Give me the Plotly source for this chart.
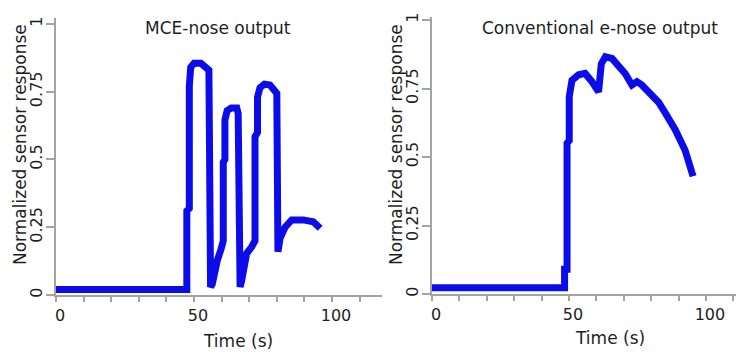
import plotly.graph_objects as go

# ---- data ----
mce_time = [0, 47.4, 47.4, 48.3, 48.3, 48.8, 50.0, 52.5, 55.4, 55.6, 56.0, 56.6, 57.2, 58.5, 59.7, 60.6,
            60.6, 61.2, 61.2, 62.0, 63.5, 65.5, 66.0, 66.1, 66.7, 67.2, 67.9, 69.1, 70.9, 72.1,
            72.1, 73.0, 73.0, 73.9, 75.5, 77.5, 80.0, 80.2, 80.4, 81.2, 83.0, 85.4, 89.6, 93.2, 95.7]
mce_resp = [0.02, 0.02, 0.31, 0.32, 0.77, 0.84, 0.855, 0.855, 0.83, 0.05, 0.03, 0.04, 0.08, 0.13, 0.166, 0.20,
            0.49, 0.50, 0.646, 0.68, 0.69, 0.69, 0.67, 0.05, 0.03, 0.05, 0.09, 0.154, 0.178, 0.20,
            0.584, 0.60, 0.73, 0.765, 0.778, 0.775, 0.744, 0.17, 0.16, 0.21, 0.25, 0.277, 0.277, 0.27, 0.246]

conv_time = [0, 48.4, 48.4, 49.3, 49.3, 50.1, 50.1, 51.1, 53.5, 55.9, 58.4, 60.8, 61.8, 63.3, 65.7,
             68.1, 70.5, 73.0, 74.8, 76.6, 80.3, 82.7, 85.2, 88.8, 92.4, 95.3]
conv_resp = [0.023, 0.023, 0.09, 0.09, 0.55, 0.56, 0.72, 0.78, 0.80, 0.805, 0.775, 0.738, 0.84, 0.866, 0.86,
             0.836, 0.805, 0.763, 0.775, 0.763, 0.726, 0.70, 0.66, 0.60, 0.525, 0.43]

panel_titles = ["MCE-nose output", "Conventional e-nose output"]
x_title = "Time (s)"
y_title = "Normalized sensor response"
y_ticks = [0, 0.25, 0.5, 0.75, 1]
y_ticktext = ["0", "0.25", "0.5", "0.75", "1"]
x_ticks = [0, 50, 100]

# The page body has an 8px margin, so the figure is 8px smaller and all
# window-pixel positions are converted with that offset.
OFF = 8
W, H = 744 - OFF, 352 - OFF


def px(xw):
    return (xw - OFF) / W


def py(yw):
    return (H - (yw - OFF)) / H


LINE = "rgb(12,12,235)"
AX = "#a3a3a3"
TXT = "#1e1e1e"
FONT = "DejaVu Sans"

fig = go.Figure()
fig.add_trace(go.Scatter(x=mce_time, y=mce_resp, mode="lines", xaxis="x", yaxis="y",
                         line=dict(color=LINE, width=7), showlegend=False, hoverinfo="skip"))
fig.add_trace(go.Scatter(x=conv_time, y=conv_resp, mode="lines", xaxis="x2", yaxis="y2",
                         line=dict(color=LINE, width=7), showlegend=False, hoverinfo="skip"))


def xax(domain, rng, anchor):
    return dict(domain=domain, range=rng, anchor=anchor, showgrid=False, zeroline=False,
                showline=True, linecolor=AX, linewidth=2,
                tickmode="array", tickvals=x_ticks, ticks="outside", ticklen=5, tickcolor=AX, tickwidth=1.5,
                minor=dict(dtick=10, tick0=0, ticks="outside", ticklen=5, tickcolor=AX, tickwidth=1.5),
                tickfont=dict(family=FONT, size=16, color=TXT), ticklabelshift=4,
                automargin=False, fixedrange=True)


def yax(domain, rng, anchor):
    return dict(domain=domain, range=rng, anchor=anchor, showgrid=False, zeroline=False,
                showline=True, linecolor=AX, linewidth=2,
                tickmode="array", tickvals=y_ticks, ticktext=y_ticktext, tickangle=-90,
                ticks="outside", ticklen=8, tickcolor=AX, tickwidth=1.5, ticklabelstandoff=-2,
                tickfont=dict(family=FONT, size=16, color=TXT),
                automargin=False, fixedrange=True)


fig.update_layout(
    width=W, height=H, margin=dict(l=0, r=0, t=0, b=0),
    paper_bgcolor="white", plot_bgcolor="white",
    font=dict(family=FONT, color=TXT),
    xaxis=xax([px(56), px(381.7)], [0, 118], "y"),
    yaxis=yax([py(295), py(18)], [0, 1.022], "x"),
    xaxis2=xax([px(432), 1.0], [0, 113.9], "y2"),
    yaxis2=yax([py(294), py(17)], [0, 1.011], "x2"),
)

tf = dict(family=FONT, size=17, color=TXT)
ann = [
    dict(text=panel_titles[0], xref="paper", yref="paper", x=px(218.3), y=py(28),
         xanchor="center", yanchor="middle", showarrow=False, font=tf),
    dict(text=panel_titles[1], xref="paper", yref="paper", x=px(599.5), y=py(28),
         xanchor="center", yanchor="middle", showarrow=False, font=tf),
    dict(text=x_title, xref="x", yref="paper", x=65.8, y=py(341),
         xanchor="center", yanchor="middle", showarrow=False, font=tf),
    dict(text=x_title, xref="x2", yref="paper", x=65.1, y=py(338),
         xanchor="center", yanchor="middle", showarrow=False, font=tf),
    dict(text=y_title, xref="paper", yref="paper", x=px(20), y=py(145), textangle=-90,
         xanchor="center", yanchor="middle", showarrow=False, font=tf),
    dict(text=y_title, xref="paper", yref="paper", x=px(396), y=py(145), textangle=-90,
         xanchor="center", yanchor="middle", showarrow=False, font=tf),
]
fig.update_layout(annotations=ann)

fig.write_html("out.html", config={"displayModeBar": False})
